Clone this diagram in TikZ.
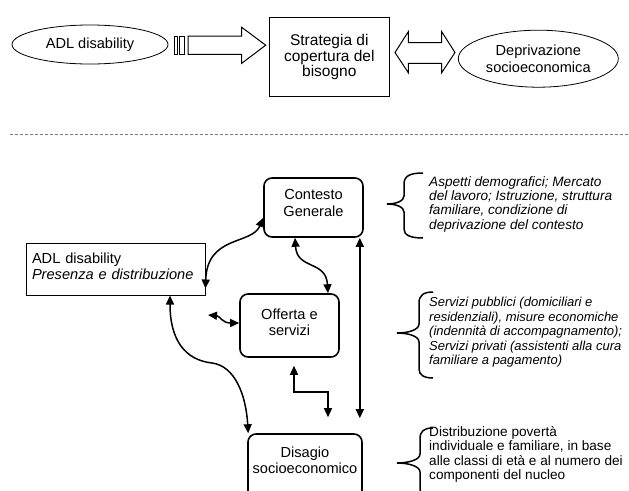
\documentclass[tikz,border=0pt]{standalone}
\usepackage{fontspec}
\setmainfont{Liberation Sans}
\usetikzlibrary{shapes.geometric,arrows.meta,calc}
\newcommand\lowerpad[1]{\rule[-#1]{0pt}{#1}}
\begin{document}
\begin{tikzpicture}[x=1pt,y=-1pt,
  nodefont/.style={font=\fontsize{14.6}{16.3}\selectfont},
  oval/.style={ellipse, draw, line width=0.8pt, inner sep=0pt, nodefont, align=center},
  sqbox/.style={draw, line width=1pt, inner sep=0pt, align=center},
  rbox/.style={draw, line width=1.6pt, rounded corners=8pt, inner sep=0pt, align=center, nodefont},
  conn/.style={line width=1.5pt, {Triangle[length=9pt,width=8pt]}-{Triangle[length=9pt,width=8pt]}},
  brace/.style={line width=1.5pt},
  note/.style={anchor=north west, inner sep=0pt, align=left},
  notefont/.style={font=\fontsize{13.6}{14.4}\selectfont},
  notefontit/.style={font=\fontsize{13.6}{14.4}\selectfont\itshape},
  blockarrow/.style={draw, line width=1pt, fill=white, line join=miter}
]
\useasboundingbox (0,0) rectangle (629,490);
\fill[white] (0,0) rectangle (629,490);
\clip (0,0) rectangle (629,490);

% ---------- top part ----------
\node[oval, minimum width=156pt, minimum height=39pt] (adltop) at (90,44.5) {ADL disability};
\node[sqbox, minimum width=120pt, minimum height=79.4pt, font=\fontsize{15.5}{15.2}\selectfont] (strat) at (329.3,57) {Strategia di\\copertura del\\bisogno};
\node[oval, minimum width=160pt, minimum height=57pt] (depr) at (538.3,58.7) {Deprivazione\\socioeconomica};

% striped block arrow
\draw[blockarrow] (174.3,36) rectangle (177.5,54.3);
\draw[blockarrow] (179.5,36) rectangle (184.5,54.3);
\draw[blockarrow] (188,36) -- (241.7,36) -- (241.7,27.3) -- (265.7,45.2) -- (241.7,63.3) -- (241.7,54.3) -- (188,54.3) -- cycle;

% double block arrow
\draw[blockarrow] (395,52.5) -- (408.3,31.7) -- (408.3,42.7) -- (441.7,42.7) -- (441.7,31.7) -- (455,52.5) -- (441.7,72.7) -- (441.7,63.3) -- (408.3,63.3) -- (408.3,72.7) -- cycle;

% dashed separator
\coordinate (dl) at (10,134);
\coordinate (dr) at (629,134);
\draw[gray, dash pattern=on 3pt off 2pt, line width=0.7pt] (dl) -- (dr);

% ---------- bottom part ----------
\node[rbox, minimum width=99pt, minimum height=59pt] (ctx) at (313.5,207.5) {Contesto\\Generale\lowerpad{9pt}};
\node[sqbox, minimum width=179pt, minimum height=52pt, text width=167pt, align=left, nodefont] (adl) at (115.5,269) {ADL disability\\\textit{Presenza e distribuzione}\lowerpad{5pt}};
\node[rbox, minimum width=99pt, minimum height=63pt] (off) at (289.5,325.5) {Offerta e\\servizi\lowerpad{7pt}};
\node[rbox, minimum width=114pt, minimum height=66pt] (dis) at (305,467) {Disagio\\socioeconomico\lowerpad{14pt}};

% connectors
\draw[conn] ([yshift=7pt]adl.south east) .. controls (207,235) and (252,245) .. ([yshift=20pt]ctx.south west);
\draw[conn] ([xshift=-18.5pt]ctx.south) .. controls (297,270) and (326,260) .. ([xshift=38.5pt]off.north);
\coordinate (vb) at ([xshift=-3pt,yshift=15pt]dis.north east);
\draw[conn] (vb |- ctx.south) -- (vb);
\draw[conn] ([xshift=54.5pt]adl.south) .. controls (170,340) and (185,360) .. (212,363) .. controls (235,366) and (246,395) .. ([xshift=1pt]dis.north west);
\coordinate (wl) at (208,315);
\draw[conn] (wl) .. controls (220,316) and (222,323) .. ([yshift=2.5pt]off.west);
\draw[conn] ([xshift=4.5pt,yshift=-8pt]off.south) -- ++(0,26) -| ([xshift=23pt,yshift=16pt]dis.north);

% braces
\draw[brace] (423,173) .. controls (410,173) and (404,176) .. (404,184) -- (404,196) .. controls (404,201) and (396,204) .. (387,204) .. controls (396,204) and (404,207) .. (404,212) -- (404,229) .. controls (404,235) and (410,238) .. (423,238);
\draw[brace] (433,292) .. controls (424,292) and (419,295) .. (419,303) -- (419,324) .. controls (419,330) and (408,333) .. (397,333) .. controls (408,333) and (419,336) .. (419,342) -- (419,369) .. controls (419,375) and (424,378) .. (433,378);
\draw[brace] (433,428) .. controls (424,428) and (420,431) .. (420,439) -- (420,454) .. controls (420,460) and (408,463) .. (397,463) .. controls (408,463) and (420,466) .. (420,472) -- (420,489) .. controls (420,495) and (424,498) .. (433,498);

% notes
\node[note, notefontit] (n1) at (429,176) {Aspetti demografici; Mercato\\del lavoro; Istruzione, struttura\\familiare, condizione di\\deprivazione del contesto};
\node[note, font=\fontsize{13.0}{14.5}\selectfont\itshape] (n2) at (429,297.2) {Servizi pubblici (domiciliari e\\residenziali), misure economiche\\(indennità di accompagnamento);\\Servizi privati (assistenti alla cura\\familiare a pagamento)};
\node[note, notefont] (n3) at (429,426) {Distribuzione povertà\\individuale e familiare, in base\\alle classi di età e al numero dei\\componenti del nucleo};
\end{tikzpicture}
\end{document}
